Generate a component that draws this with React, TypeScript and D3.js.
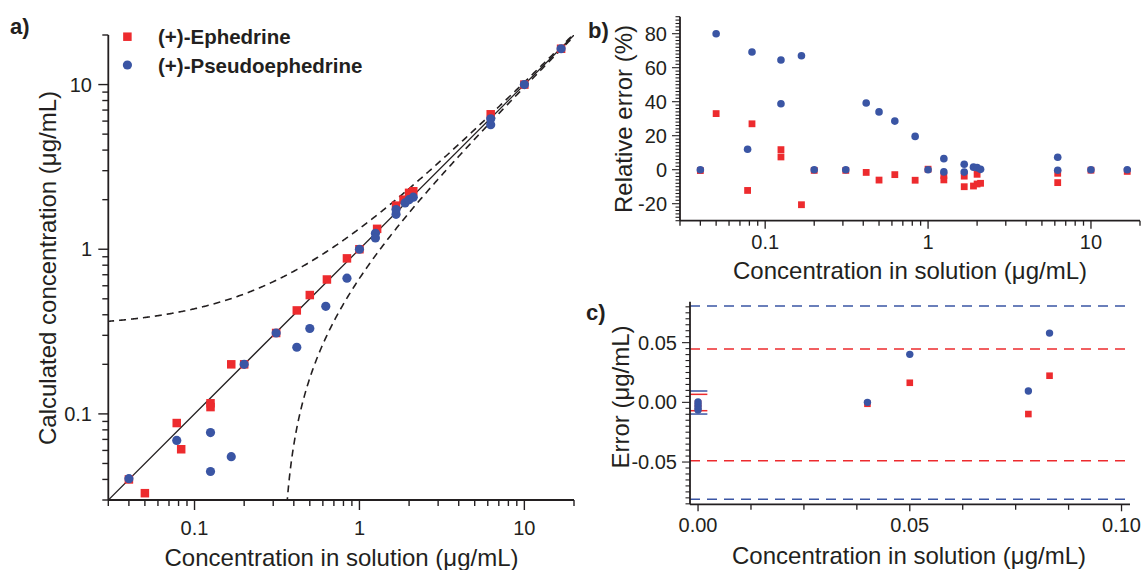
import React from "react";
import * as d3 from "d3";

const RED = "#ED2B2E";
const BLUE = "#3A55A4";
const INK = "#231F20";
const FONT = "'Liberation Sans', Arial, Helvetica, sans-serif";

// ---------- Panel a: calculated vs. actual concentration (µg/mL) ----------
const ephA_x = [0.04, 0.05, 0.078, 0.083, 0.125, 0.125, 0.167, 0.2, 0.3125, 0.417, 0.5, 0.635, 0.84, 1, 1.28, 1.667, 1.85, 2.0, 2.12, 6.25, 10, 16.7];
const ephA_y = [0.04, 0.033, 0.088, 0.061, 0.116, 0.11, 0.2, 0.2, 0.31, 0.425, 0.527, 0.655, 0.88, 1, 1.33, 1.84, 2.0, 2.2, 2.25, 6.6, 10, 16.5];
const psA_x = [0.04, 0.078, 0.125, 0.125, 0.167, 0.2, 0.3125, 0.417, 0.5, 0.625, 0.84, 1, 1.25, 1.25, 1.667, 1.667, 1.89, 2.0, 2.12, 6.25, 6.25, 10, 16.7];
const psA_y = [0.0404, 0.069, 0.077, 0.0447, 0.055, 0.2, 0.31, 0.254, 0.33, 0.45, 0.667, 1, 1.25, 1.17, 1.63, 1.74, 1.91, 2.0, 2.07, 6.2, 5.7, 10, 16.5];
const LOD_OFFSET = 0.335; // half-width of the dashed band (µg/mL)
const logMajors = [0.1, 1, 10];
const logMajorLabels = ["0.1", "1", "10"];

// ---------- Panel b: relative error (%) ----------
const ephB_x = [0.04, 0.05, 0.078, 0.083, 0.125, 0.125, 0.167, 0.2, 0.3125, 0.417, 0.5, 0.625, 0.833, 1, 1.25, 1.25, 1.667, 1.667, 1.9, 2.0, 2.0, 2.1, 6.25, 6.25, 10, 16.7];
const ephB_y = [-0.5, 33, -12.2, 27, 11.8, 7.5, -20.6, -0.4, -0.4, -1.6, -6.1, -2.9, -6.2, 0.3, -3.5, -6, -3.8, -10, -9.6, -2.7, -8.4, -8, -2.1, -7.6, -0.3, -1];
const psB_x = [0.04, 0.05, 0.078, 0.083, 0.125, 0.125, 0.167, 0.2, 0.3125, 0.417, 0.5, 0.625, 0.833, 1, 1.25, 1.25, 1.667, 1.667, 1.9, 2.0, 2.1, 6.25, 6.25, 10, 16.7];
const psB_y = [0, 80, 12, 69.2, 64.5, 38.8, 67, 0, 0, 39.2, 34, 28.6, 19.6, 0, 6.5, -1.3, 3.2, -1.4, 1.5, 1.2, 0.2, 7.3, -0.3, 0, 0];
const relMajors = [-20, 0, 20, 40, 60, 80];

// ---------- Panel c: absolute error (µg/mL) ----------
const ephC_x = [0, 0, 0.04, 0.05, 0.078, 0.083];
const ephC_y = [-0.001, -0.005, -0.0012, 0.0164, -0.0098, 0.0223];
const psC_x = [0, 0, 0, 0, 0.04, 0.05, 0.078, 0.083];
const psC_y = [0.0003, -0.002, -0.0045, -0.0065, 0, 0.0402, 0.0095, 0.058];
const limitBlue = [0.0807, -0.0812];
const limitRed = [0.0446, -0.0489];
const blankBlue = [0.0095, -0.0098];
const blankRed = [0.0067, -0.007];
const errMajors = [-0.05, 0, 0.05];
const errMajorLabels = ["-0.05", "0.00", "0.05"];
const cXMajors = [0, 0.05, 0.1];
const cXMajorLabels = ["0.00", "0.05", "0.10"];

const Square = ({ x, y, s }: { x: number; y: number; s: number }) => (
  <rect x={x - s / 2} y={y - s / 2} width={s} height={s} fill={RED} />
);

export default function App() {
  // ----- scales -----
  const ax = d3.scaleLog().domain([0.03, 20]).range([108.3, 574]);
  const ay = d3.scaleLog().domain([0.03, 20]).range([500, 35]);
  const bx = d3.scaleLog().domain([0.03, 20]).range([680, 1140]);
  const by = d3.scaleLinear().domain([-30, 90]).range([220.7, 16.7]);
  const cx = d3.scaleLinear().domain([-0.0019, 0.102]).range([690, 1130]);
  const cy = d3.scaleLinear().domain([-0.0854, 0.0843]).range([504.3, 301.7]);

  const logTicks = ax.ticks();
  const isMajor = (v: number) => logMajors.some((m) => Math.abs(m - v) / m < 1e-6);

  // curves for panel a
  const grid = d3.range(-1.53, 1.32, 0.005).map((e) => Math.pow(10, e));
  const lineA = d3
    .line<[number, number]>()
    .x((d) => ax(d[0]))
    .y((d) => ay(d[1]));
  const upper = lineA(grid.map((v) => [v, v + LOD_OFFSET] as [number, number]));
  const lower = lineA(
    grid.filter((v) => v - LOD_OFFSET > 0.02).map((v) => [v, v - LOD_OFFSET] as [number, number])
  );
  const ident = lineA([
    [0.03, 0.03],
    [20, 20],
  ]);

  const bMinorY = d3.range(-30, 91, 2);
  const cMinorY = d3.range(-0.085, 0.0845, 0.005);
  const cXTicks = d3.range(0, 0.1001, 0.0125);

  const axisW = 1.8;
  const tickFs = 20;
  const titleFs = 24;

  return (
    <svg
      width={1143}
      height={570}
      style={{ position: "absolute", left: 0, top: 0, background: "#fff" }}
      fontFamily={FONT}
    >
      <defs>
        <clipPath id="clipA">
          <rect x={108.3} y={35} width={574 - 108.3} height={500 - 35} />
        </clipPath>
      </defs>
      <rect x={0} y={0} width={1143} height={570} fill="#fff" />

      {/* ================= Panel a ================= */}
      <g clipPath="url(#clipA)">
        <path d={upper || ""} fill="none" stroke={INK} strokeWidth={1.6} strokeDasharray="7,5" />
        <path d={lower || ""} fill="none" stroke={INK} strokeWidth={1.6} strokeDasharray="7,5" />
        <path d={ident || ""} fill="none" stroke={INK} strokeWidth={1.3} />
      </g>
      {ephA_x.map((v, i) => (
        <Square key={"ea" + i} x={ax(v)} y={ay(ephA_y[i])} s={8.5} />
      ))}
      {psA_x.map((v, i) => (
        <circle key={"pa" + i} cx={ax(v)} cy={ay(psA_y[i])} r={4.6} fill={BLUE} />
      ))}
      {/* axes */}
      <line x1={108.3} x2={108.3} y1={35} y2={500} stroke={INK} strokeWidth={axisW} />
      <line x1={108.3} x2={574} y1={500} y2={500} stroke={INK} strokeWidth={axisW} />
      {logTicks.map((t, i) => (
        <g key={"axt" + i}>
          <line x1={ax(t)} x2={ax(t)} y1={500} y2={500 + (isMajor(t) ? 10 : 6)} stroke={INK} strokeWidth={1.4} />
          <line x1={108.3} x2={108.3 - (isMajor(t) ? 10 : 6)} y1={ay(t)} y2={ay(t)} stroke={INK} strokeWidth={1.4} />
        </g>
      ))}
      {logMajors.map((t, i) => (
        <g key={"axl" + i}>
          <text x={ax(t)} y={535} textAnchor="middle" fontSize={tickFs} fill={INK}>
            {logMajorLabels[i]}
          </text>
          <text x={92} y={ay(t)} dy="0.35em" textAnchor="end" fontSize={tickFs} fill={INK}>
            {logMajorLabels[i]}
          </text>
        </g>
      ))}
      <text x={341.5} y={566} textAnchor="middle" fontSize={titleFs} fill={INK}>
        Concentration in solution (μg/mL)
      </text>
      <text transform="translate(56,268) rotate(-90)" textAnchor="middle" fontSize={titleFs} fill={INK}>
        Calculated concentration (μg/mL)
      </text>
      {/* legend */}
      <Square x={127.4} y={36.7} s={8.5} />
      <circle cx={127.4} cy={65} r={4.6} fill={BLUE} />
      <text x={158} y={44} fontSize={20.5} fontWeight="bold" fill={INK}>
        (+)-Ephedrine
      </text>
      <text x={158} y={72.5} fontSize={20.5} fontWeight="bold" fill={INK}>
        (+)-Pseudoephedrine
      </text>
      <text x={10} y={34} fontSize={22} fontWeight="bold" fill={INK}>
        a)
      </text>

      {/* ================= Panel b ================= */}
      {ephB_x.map((v, i) => (
        <Square key={"eb" + i} x={bx(v)} y={by(ephB_y[i])} s={6.8} />
      ))}
      {psB_x.map((v, i) => (
        <circle key={"pb" + i} cx={bx(v)} cy={by(psB_y[i])} r={3.8} fill={BLUE} />
      ))}
      <line x1={680} x2={680} y1={16.7} y2={220.7} stroke={INK} strokeWidth={axisW} />
      <line x1={680} x2={1140} y1={220.7} y2={220.7} stroke={INK} strokeWidth={axisW} />
      {bx.ticks().map((t, i) => (
        <line key={"bxt" + i} x1={bx(t)} x2={bx(t)} y1={220.7} y2={220.7 + (isMajor(t) ? 8 : 5)} stroke={INK} strokeWidth={1.3} />
      ))}
      {bMinorY.map((t, i) => (
        <line key={"byt" + i} x1={680} x2={680 - (t % 20 === 0 ? 8 : 4.5)} y1={by(t)} y2={by(t)} stroke={INK} strokeWidth={1.1} />
      ))}
      {logMajors.map((t, i) => (
        <text key={"bxl" + i} x={bx(t)} y={248.5} textAnchor="middle" fontSize={tickFs} fill={INK}>
          {logMajorLabels[i]}
        </text>
      ))}
      {relMajors.map((t, i) => (
        <text key={"byl" + i} x={667} y={by(t)} dy="0.35em" textAnchor="end" fontSize={tickFs} fill={INK}>
          {String(t)}
        </text>
      ))}
      <text x={910} y={279} textAnchor="middle" fontSize={titleFs} fill={INK}>
        Concentration in solution (μg/mL)
      </text>
      <text transform="translate(632,119) rotate(-90)" textAnchor="middle" fontSize={titleFs} fill={INK}>
        Relative error (%)
      </text>
      <text x={588} y={38} fontSize={22} fontWeight="bold" fill={INK}>
        b)
      </text>

      {/* ================= Panel c ================= */}
      {limitBlue.map((v, i) => (
        <line key={"lb" + i} x1={690} x2={1130} y1={cy(v)} y2={cy(v)} stroke={BLUE} strokeWidth={1.5} strokeDasharray="10,7" />
      ))}
      {limitRed.map((v, i) => (
        <line key={"lr" + i} x1={690} x2={1130} y1={cy(v)} y2={cy(v)} stroke={RED} strokeWidth={1.5} strokeDasharray="10,7" />
      ))}
      {blankBlue.map((v, i) => (
        <line key={"bb" + i} x1={690} x2={cx(0.0022)} y1={cy(v)} y2={cy(v)} stroke={BLUE} strokeWidth={1.5} />
      ))}
      {blankRed.map((v, i) => (
        <line key={"br" + i} x1={690} x2={cx(0.0022)} y1={cy(v)} y2={cy(v)} stroke={RED} strokeWidth={1.5} />
      ))}
      {ephC_x.map((v, i) => (
        <Square key={"ec" + i} x={cx(v)} y={cy(ephC_y[i])} s={6.6} />
      ))}
      {psC_x.map((v, i) => (
        <circle key={"pc" + i} cx={cx(v)} cy={cy(psC_y[i])} r={3.7} fill={BLUE} />
      ))}
      <line x1={690} x2={690} y1={301.7} y2={504.3} stroke={INK} strokeWidth={axisW} />
      <line x1={690} x2={1130} y1={504.3} y2={504.3} stroke={INK} strokeWidth={axisW} />
      {cXTicks.map((t, i) => (
        <line key={"cxt" + i} x1={cx(t)} x2={cx(t)} y1={504.3} y2={504.3 + (i % 4 === 0 ? 7 : 5.5)} stroke={INK} strokeWidth={1.3} />
      ))}
      {cMinorY.map((t, i) => {
        const maj = errMajors.some((m) => Math.abs(m - t) < 1e-6);
        return (
          <line key={"cyt" + i} x1={690} x2={690 - (maj ? 8 : 4.5)} y1={cy(t)} y2={cy(t)} stroke={INK} strokeWidth={1.1} />
        );
      })}
      {cXMajors.map((t, i) => (
        <text key={"cxl" + i} x={cx(t)} y={531.5} textAnchor="middle" fontSize={tickFs} fill={INK}>
          {cXMajorLabels[i]}
        </text>
      ))}
      {errMajors.map((t, i) => (
        <text key={"cyl" + i} x={677} y={cy(t)} dy="0.35em" textAnchor="end" fontSize={tickFs} fill={INK}>
          {errMajorLabels[i]}
        </text>
      ))}
      <text x={909} y={563.5} textAnchor="middle" fontSize={titleFs} fill={INK}>
        Concentration in solution (μg/mL)
      </text>
      <text transform="translate(629,397) rotate(-90)" textAnchor="middle" fontSize={titleFs} fill={INK}>
        Error (μg/mL)
      </text>
      <text x={586} y={320} fontSize={22} fontWeight="bold" fill={INK}>
        c)
      </text>
    </svg>
  );
}
